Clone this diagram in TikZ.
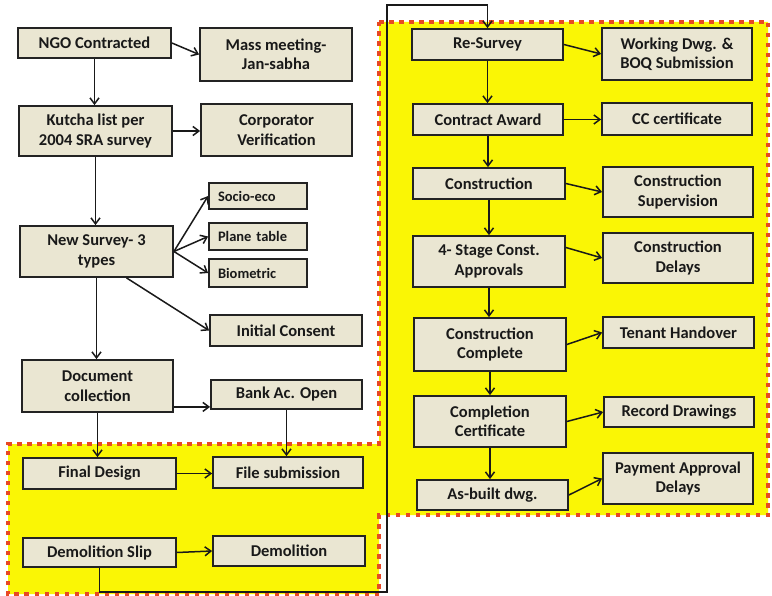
\documentclass[tikz,border=0pt]{standalone}
\usepackage{fontspec}
\setmainfont{Carlito}
\usetikzlibrary{arrows.meta,calc}

\definecolor{boxfill}{RGB}{234,230,210}
\definecolor{boxline}{RGB}{35,35,35}
\definecolor{ink}{RGB}{25,25,25}
\definecolor{zonefill}{RGB}{250,246,5}
\definecolor{zoneline}{RGB}{232,72,35}

% #1 extra options, #2 name, #3-#6 corners (x1,y1,x2,y2), #7 text
\newcommand\flowbox[7][]{%
  \node[fbox,#1,minimum width={#5-#3},minimum height={#6-#4}]
    (#2) at ({(#3+#5)/2},{(#4+#6)/2}) {#7};}

\tikzset{
  fbox/.style={draw=boxline, fill=boxfill, line width=1.8pt, align=center,
    inner sep=0pt, text=ink, font=\bfseries\fontsize{16.5}{19.5}\selectfont},
  subbox/.style={font=\bfseries\fontsize{14.5}{17}\selectfont,
    text width=80pt, align=left},
  arr/.style={draw=ink, line width=1.5pt,
    -{Straight Barb[length=6pt,width=9pt,line width=1.5pt]}},
  zone/.style={fill=zonefill, draw=zoneline, line width=4.5pt,
    dash pattern=on 4.5pt off 5.5pt}
}

\begin{document}
\begin{tikzpicture}[x=1pt,y=-1pt]
\useasboundingbox[fill=white] (0,0) rectangle (772,596);

% highlighted execution stage
\draw[zone] (379,22) -- (768,22) -- (768,515) -- (379,515) -- (379,594)
  -- (8,594) -- (8,444) -- (379,444) -- cycle;

% left column: survey and pre-construction
\flowbox{ngo}{18}{28}{171}{58}{NGO Contracted}
\flowbox{mass}{200}{28}{352}{81}{Mass meeting-\\Jan-sabha}
\flowbox{kutcha}{19}{106}{172}{156}{Kutcha list per\\2004 SRA survey}
\flowbox{corp}{201}{104}{352}{156}{Corporator\\Verification}
\flowbox[subbox]{socio}{209}{183}{307}{209}{Socio-eco}
\flowbox[subbox]{plane}{209}{223}{307}{250}{Plane table}
\flowbox[subbox]{bio}{209}{259}{307}{287}{Biometric}
\flowbox{survey}{20}{226}{173}{277}{New Survey- 3\\types}
\flowbox{consent}{210}{315}{362}{346}{Initial Consent}
\flowbox{doc}{22}{360}{173}{412}{Document\\collection}
\flowbox{bank}{211}{380}{362}{409}{Bank Ac. Open}
\flowbox{final}{23}{458}{176}{489}{Final Design}
\flowbox{file}{213}{457}{363}{488}{File submission}
\flowbox{dslip}{23}{538}{176}{567}{Demolition Slip}
\flowbox{demo}{213}{536}{365}{566}{Demolition}

% right column: construction
\flowbox{resurvey}{412}{29}{563}{60}{Re-Survey}
\flowbox{wdwg}{602}{28}{752}{80}{Working Dwg. \&\\BOQ Submission}
\flowbox{award}{413}{104}{563}{135}{Contract Award}
\flowbox{cc}{602}{103}{752}{135}{CC certificate}
\flowbox{constr}{413}{168}{565}{199}{Construction}
\flowbox{superv}{603}{167}{753}{217}{Construction\\Supervision}
\flowbox{stage}{413}{236}{565}{287}{4- Stage Const.\\Approvals}
\flowbox{delays}{603}{233}{753}{283}{Construction\\Delays}
\flowbox{complete}{414}{318}{566}{371}{Construction\\Complete}
\flowbox{tenant}{603}{317}{754}{348}{Tenant Handover}
\flowbox{cert}{414}{396}{566}{447}{Completion\\Certificate}
\flowbox{record}{604}{397}{754}{427}{Record Drawings}
\flowbox{asbuilt}{417}{480}{568}{510}{As-built dwg.}
\flowbox{payment}{603}{453}{753}{504}{Payment Approval\\Delays}

% waypoints
\coordinate (loopA) at (387,592);
\coordinate (loopB) at (387,5);
\coordinate (docout) at ($(doc.south east)+(0,-6)$);
\coordinate (stageout) at ($(stage.east)+(0,-14)$);

% left column connectors
\draw[arr] (ngo.east) -- (mass.west);
\draw[arr] (ngo.south) -- (ngo.south |- kutcha.north);
\draw[arr] (kutcha.east) -- (kutcha.east -| corp.west);
\draw[arr] (kutcha.south) -- (kutcha.south |- survey.north);
\draw[arr] (survey.east) -- (socio.west);
\draw[arr] (survey.east) -- (plane.west);
\draw[arr] (survey.east) -- (bio.west);
\draw[arr] ([xshift=30pt]survey.south) -- (consent.west);
\draw[arr] (survey.south) -- (survey.south |- doc.north);
\draw[arr] (docout) -- (docout -| bank.west);
\draw[arr] (doc.south) -- (doc.south |- final.north);
\draw[arr] (bank.south) -- (bank.south |- file.north);
\draw[arr] (final.east) -- (final.east -| file.west);
\draw[arr] (dslip.east) -- (demo.west);
\draw[arr] (dslip.south) |- (loopA) -- (loopB) -| (resurvey.north);

% right column connectors
\draw[arr] (resurvey.east) -- (wdwg.west);
\draw[arr] (resurvey.south) -- (resurvey.south |- award.north);
\draw[arr] (award.east) -- (award.east -| cc.west);
\draw[arr] (award.south) -- (award.south |- constr.north);
\draw[arr] (constr.east) -- (superv.west);
\draw[arr] (constr.south) -- (constr.south |- stage.north);
\draw[arr] (stageout) -- (delays.west);
\draw[arr] (stage.south) -- (stage.south |- complete.north);
\draw[arr] (complete.east) -- (tenant.west);
\draw[arr] (complete.south) -- (complete.south |- cert.north);
\draw[arr] (cert.east) -- (record.west);
\draw[arr] (cert.south) -- (cert.south |- asbuilt.north);
\draw[arr] (asbuilt.east) -- (payment.west);
\end{tikzpicture}
\end{document}
